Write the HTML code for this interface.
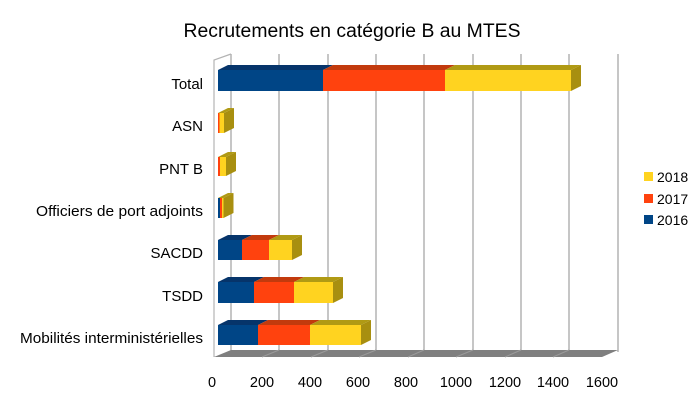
<!DOCTYPE html>
<html><head><meta charset="utf-8"><style>body{margin:0;background:#fff}svg{display:block}</style></head><body>
<svg width="699" height="403" viewBox="0 0 699 403" xmlns="http://www.w3.org/2000/svg" font-family="Liberation Sans, sans-serif">
<rect width="699" height="403" fill="#fff"/>
<text x="352" y="37" font-size="19" text-anchor="middle" textLength="337" lengthAdjust="spacingAndGlyphs" fill="#000">Recrutements en catégorie B au MTES</text>
<polyline points="214,357 214,60 231,54" fill="none" stroke="#b3b3b3" stroke-width="1.2"/>
<g stroke="#b3b3b3" stroke-width="1.5">
<line x1="231" y1="54" x2="231" y2="352"/><line x1="279" y1="54" x2="279" y2="352"/><line x1="328" y1="54" x2="328" y2="352"/><line x1="376" y1="54" x2="376" y2="352"/><line x1="424" y1="54" x2="424" y2="352"/><line x1="473" y1="54" x2="473" y2="352"/><line x1="521" y1="54" x2="521" y2="352"/><line x1="569" y1="54" x2="569" y2="352"/><line x1="618" y1="54" x2="618" y2="352"/>
</g>
<polygon points="214,357 231,350 618,350 602,357" fill="#7f7f7f"/>
<g stroke="#9a9a9a" stroke-width="1"><line x1="262" y1="357" x2="279" y2="350"/><line x1="311" y1="357" x2="328" y2="350"/><line x1="359" y1="357" x2="376" y2="350"/><line x1="408" y1="357" x2="424" y2="350"/><line x1="456" y1="357" x2="473" y2="350"/><line x1="505" y1="357" x2="521" y2="350"/><line x1="553" y1="357" x2="569" y2="350"/></g>
<g font-size="14.5" fill="#000" text-anchor="middle">
<text x="212" y="387">0</text><text x="262" y="387">200</text><text x="310" y="387">400</text><text x="358" y="387">600</text><text x="406" y="387">800</text><text x="456" y="387">1000</text><text x="505" y="387">1200</text><text x="553" y="387">1400</text><text x="602" y="387">1600</text>
</g>
<g font-size="15" fill="#000" text-anchor="end">
<text x="203" y="89">Total</text><text x="203" y="131">ASN</text><text x="203" y="174">PNT B</text><text x="203" y="216" textLength="167" lengthAdjust="spacingAndGlyphs">Officiers de port adjoints</text><text x="203" y="258">SACDD</text><text x="203" y="301">TSDD</text><text x="203" y="343" textLength="183" lengthAdjust="spacingAndGlyphs">Mobilités interministérielles</text>
</g>
<g>
<polygon points="218,70 228,65 333,65 323,70" fill="#06346a"/><rect x="218" y="70" width="105" height="21" fill="#004586"/>
<polygon points="323,70 333,65 455,65 445,70" fill="#c23a0d"/><rect x="323" y="70" width="122" height="21" fill="#ff420e"/>
<polygon points="445,70 455,65 581,65 571,70" fill="#b09a14"/><rect x="445" y="70" width="126" height="21" fill="#ffd320"/>
<polygon points="571,70 581,65 581,86 571,91" fill="#a88f10"/>
<rect x="218" y="113" width="1.5" height="20" fill="#ff420e"/><rect x="219.5" y="113" width="4.5" height="20" fill="#ffd320"/>
<polygon points="218,113 228,108 234,108 224,113" fill="#b09a14"/><polygon points="224,113 234,108 234,128 224,133" fill="#a88f10"/>
<rect x="218" y="157" width="2" height="19" fill="#ff420e"/><rect x="220" y="157" width="6" height="19" fill="#ffd320"/>
<polygon points="218,157 228,152 236,152 226,157" fill="#b09a14"/><polygon points="226,157 236,152 236,171 226,176" fill="#a88f10"/>
<rect x="218" y="198" width="2" height="20" fill="#004586"/><rect x="220" y="198" width="2" height="20" fill="#ff420e"/><rect x="222" y="198" width="1.5" height="20" fill="#ffd320"/>
<polygon points="218,198 228,193 233.5,193 223.5,198" fill="#b09a14"/><polygon points="223.5,198 233.5,193 233.5,213 223.5,218" fill="#a88f10"/>
<polygon points="218,240 228,235 252,235 242,240" fill="#06346a"/><rect x="218" y="240" width="24" height="20" fill="#004586"/>
<polygon points="242,240 252,235 279,235 269,240" fill="#c23a0d"/><rect x="242" y="240" width="27" height="20" fill="#ff420e"/>
<polygon points="269,240 279,235 302,235 292,240" fill="#b09a14"/><rect x="269" y="240" width="23" height="20" fill="#ffd320"/>
<polygon points="292,240 302,235 302,255 292,260" fill="#a88f10"/>
<polygon points="218,282 228,277 264,277 254,282" fill="#06346a"/><rect x="218" y="282" width="36" height="21" fill="#004586"/>
<polygon points="254,282 264,277 304,277 294,282" fill="#c23a0d"/><rect x="254" y="282" width="40" height="21" fill="#ff420e"/>
<polygon points="294,282 304,277 343,277 333,282" fill="#b09a14"/><rect x="294" y="282" width="39" height="21" fill="#ffd320"/>
<polygon points="333,282 343,277 343,298 333,303" fill="#a88f10"/>
<polygon points="218,325 228,320 268,320 258,325" fill="#06346a"/><rect x="218" y="325" width="40" height="20" fill="#004586"/>
<polygon points="258,325 268,320 320,320 310,325" fill="#c23a0d"/><rect x="258" y="325" width="52" height="20" fill="#ff420e"/>
<polygon points="310,325 320,320 371,320 361,325" fill="#b09a14"/><rect x="310" y="325" width="51" height="20" fill="#ffd320"/>
<polygon points="361,325 371,320 371,340 361,345" fill="#a88f10"/>
</g>
<rect x="644" y="172" width="9" height="9" fill="#ffd320"/><text x="657" y="182" font-size="14">2018</text>
<rect x="644" y="194" width="9" height="9" fill="#ff420e"/><text x="657" y="204" font-size="14">2017</text>
<rect x="644" y="215" width="9" height="9" fill="#004586"/><text x="657" y="225" font-size="14">2016</text>
</svg>
</body></html>
